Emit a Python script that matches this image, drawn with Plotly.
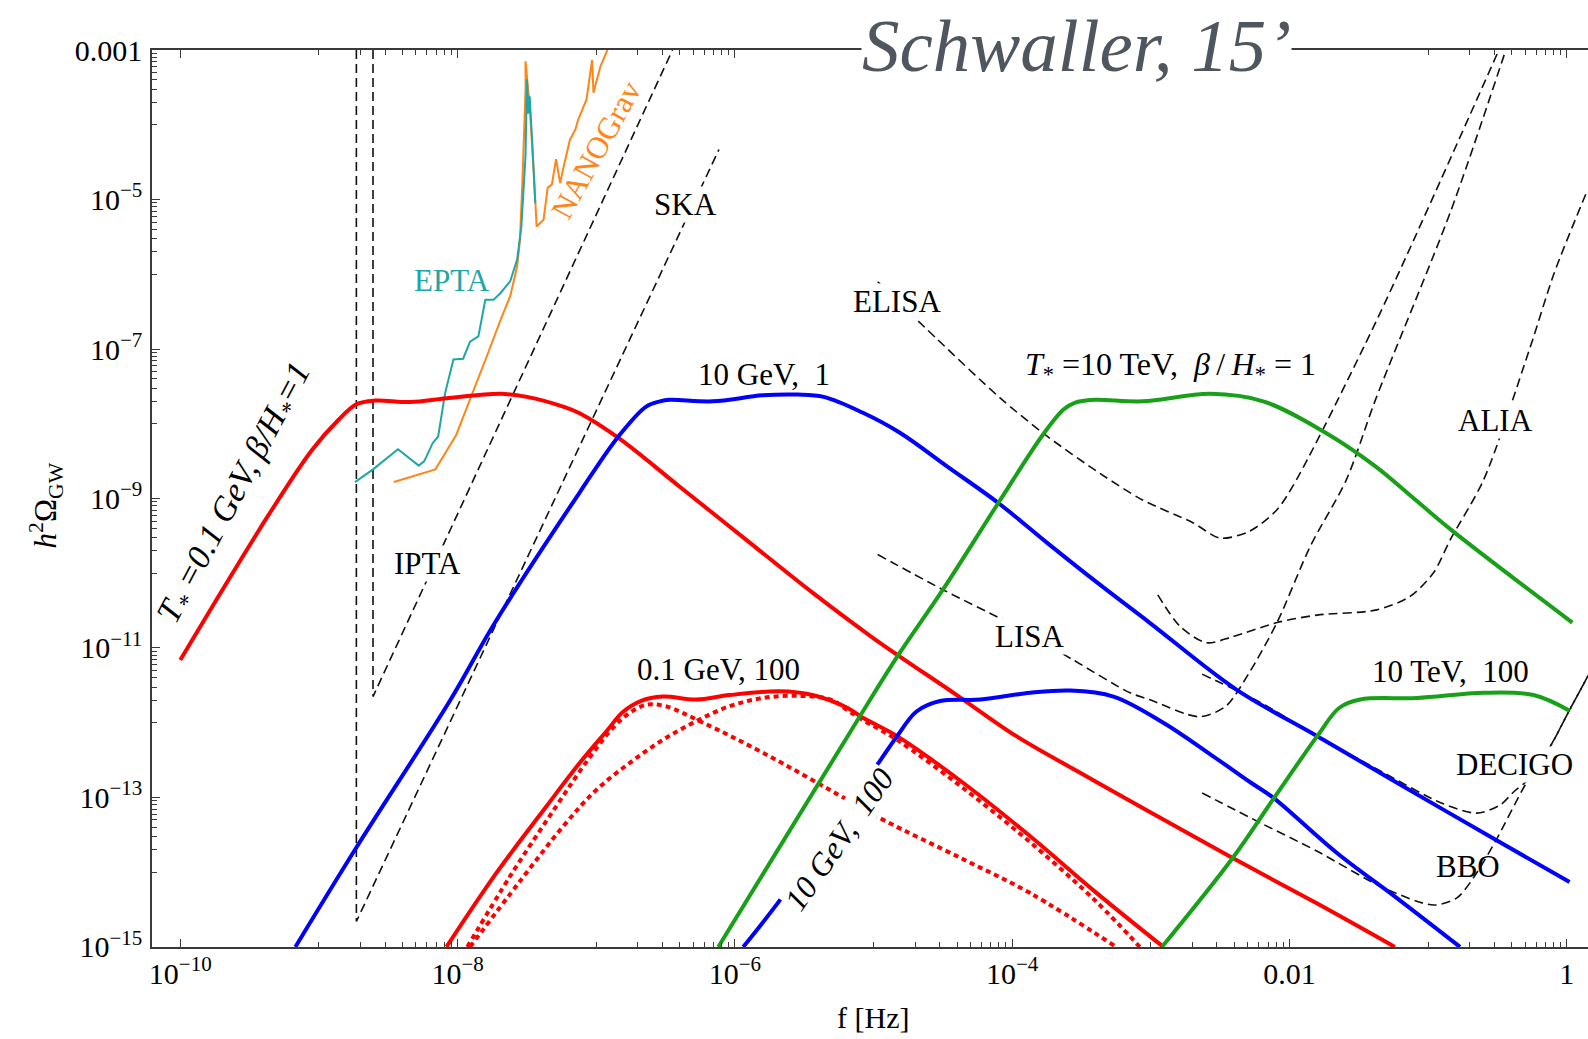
import numpy as np
import plotly.graph_objects as go

# ---------------------------------------------------------------
# Phase-transition GW spectra (log10 f [Hz], log10 h^2 Omega_GW)
# ---------------------------------------------------------------
# T* = 0.1 GeV, beta/H* = 1
red1_logf = [-10.00, -9.37, -9.05, -8.86, -8.73, -8.60, -8.34, -8.08, -7.69, -7.50, -7.24, -7.12,
             -6.84, -6.40, -5.92, -5.44, -5.00, -4.40, -3.97, -3.51, -3.03, -2.41, -1.80, -1.24]
red1_logo = [-11.16, -9.24, -8.35, -7.95, -7.74, -7.69, -7.71, -7.66, -7.60, -7.64, -7.77, -7.86,
             -8.19, -8.84, -9.55, -10.26, -10.87, -11.63, -12.18, -12.67, -13.17, -13.81, -14.42, -15.00]

# T* = 0.1 GeV, beta/H* = 100 (total and its two components)
red2_logf = [-8.08, -7.72, -7.36, -7.12, -6.92, -6.81, -6.68, -6.52, -6.28, -6.04, -5.68, -5.44,
             -5.19, -5.08, -4.83, -4.35, -3.87, -3.39, -2.91]
red2_logo = [-15.00, -14.01, -13.12, -12.54, -12.10, -11.86, -11.71, -11.65, -11.69, -11.63, -11.58, -11.63,
             -11.80, -11.93, -12.18, -12.81, -13.52, -14.28, -15.00]
red2a_logf = [-7.93, -7.62, -7.30, -7.05, -6.88, -6.76, -6.64, -6.50, -6.23, -5.80, -5.19, -4.93,
              -4.35, -3.87, -3.25]
red2a_logo = [-15.00, -14.05, -13.15, -12.47, -12.07, -11.87, -11.76, -11.78, -12.00, -12.40, -13.03, -13.30,
              -13.83, -14.28, -15.00]
red2b_logf = [-7.91, -7.55, -7.24, -7.00, -6.76, -6.52, -6.28, -6.04, -5.80, -5.55, -5.31, -5.19,
              -5.08, -4.83, -4.35, -3.87, -3.39, -3.08]
red2b_logo = [-15.00, -14.12, -13.39, -12.90, -12.54, -12.23, -11.98, -11.78, -11.67, -11.64, -11.69, -11.83,
              -11.96, -12.23, -12.88, -13.60, -14.40, -15.00]

# T* = 10 GeV, beta/H* = 1
blue1_logf = [-9.17, -8.73, -8.05, -7.73, -7.12, -6.84, -6.64, -6.54, -6.47, -6.16, -5.80, -5.55,
              -5.36, -5.08, -4.81, -4.47, -4.10, -3.75, -3.37, -3.01, -2.38, -1.80, -1.20, -0.51, 0.02]
blue1_logo = [-15.00, -13.67, -11.69, -10.66, -8.92, -8.17, -7.77, -7.70, -7.68, -7.70, -7.62, -7.61,
              -7.64, -7.85, -8.12, -8.57, -9.06, -9.59, -10.15, -10.66, -11.56, -12.18, -12.83, -13.57, -14.13]

# T* = 10 GeV, beta/H* = 100
blue2_logf = [-5.94, -5.69, -4.95, -4.83, -4.69, -4.52, -4.23, -3.87, -3.58, -3.27, -2.91, -2.55,
              -2.28, -2.12, -1.66, -1.23, -0.77]
blue2_logo = [-15.00, -14.41, -12.50, -12.18, -11.85, -11.71, -11.69, -11.60, -11.57, -11.65, -12.00, -12.45,
              -12.80, -13.00, -13.74, -14.34, -15.00]

# T* = 10 TeV, beta/H* = 1
green1_logf = [-6.12, -5.17, -4.82, -4.50, -4.10, -3.78, -3.63, -3.55, -3.41, -3.06, -2.57, -2.19,
               -1.74, -1.38, -1.09, -0.82, 0.04]
green1_logo = [-15.00, -12.13, -11.09, -10.22, -9.06, -8.15, -7.81, -7.72, -7.68, -7.70, -7.60, -7.70,
               -8.12, -8.57, -9.02, -9.44, -10.66]

# T* = 10 TeV, beta/H* = 100
green2_logf = [-2.92, -2.41, -2.12, -1.80, -1.64, -1.49, -1.08, -0.60, -0.24, 0.02]
green2_logo = [-15.00, -13.81, -13.03, -12.18, -11.80, -11.69, -11.67, -11.60, -11.63, -11.84]

# ---------------------------------------------------------------
# Pulsar timing limits
# ---------------------------------------------------------------
nanograv_logf = [-8.46, -8.16, -8.01, -7.89, -7.79, -7.69, -7.62, -7.57, -7.55, -7.53, -7.51, -7.51,
                 -7.48, -7.45, -7.43, -7.38, -7.35, -7.32, -7.29, -7.26, -7.24, -7.19, -7.15, -7.13,
                 -7.08, -7.07, -7.03, -7.02, -6.97, -6.92]
nanograv_logo = [-8.78, -8.61, -8.15, -7.59, -7.10, -6.61, -6.29, -5.89, -5.54, -4.64, -3.53, -3.15,
                 -3.75, -4.64, -5.36, -5.27, -4.84, -4.80, -4.46, -4.78, -4.60, -4.20, -4.06, -3.93,
                 -3.71, -3.66, -3.13, -3.57, -3.22, -3.00]

epta_logf = [-8.74, -8.61, -8.43, -8.28, -8.24, -8.18, -8.14, -8.09, -8.03, -7.96, -7.91, -7.85,
             -7.80, -7.74, -7.69, -7.62, -7.57, -7.54, -7.51, -7.50, -7.49, -7.48, -7.46, -7.44]
epta_logo = [-8.78, -8.61, -8.34, -8.56, -8.50, -8.26, -8.17, -7.59, -7.14, -7.13, -6.90, -6.83,
             -6.34, -6.34, -6.25, -6.09, -5.80, -5.36, -4.42, -3.39, -3.85, -3.62, -4.30, -5.05]

# ---------------------------------------------------------------
# Projected sensitivity curves
# ---------------------------------------------------------------
ipta_logf = [-8.61, -8.61, -6.45]
ipta_logo = [-3.00, -11.65, -3.00]
ska_logf = [-8.73, -8.73, -6.115]
ska_logo = [-3.00, -14.66, -4.33]

elisa_logf = [-4.97, -4.54, -4.09, -3.76, -3.37, -3.06, -2.70, -2.50, -2.29, -2.09, -1.95, -1.38, -0.49]
elisa_logo = [-6.10, -6.87, -7.65, -8.15, -8.66, -9.02, -9.32, -9.53, -9.44, -9.15, -8.75, -6.65, -3.00]

lisa_logf = [-4.97, -4.50, -4.04, -3.56, -3.15, -3.01, -2.65, -2.46, -2.29, -2.09, -1.85, -1.59,
             -1.38, -0.84, -0.44]
lisa_logo = [-9.75, -10.22, -10.65, -11.16, -11.60, -11.69, -11.92, -11.78, -11.33, -10.66, -9.64, -8.75,
             -7.68, -5.17, -3.00]

alia_logf = [-2.95, -2.79, -2.60, -2.41, -2.09, -1.80, -1.37, -1.13, -0.96, -0.84, -0.60, -0.27, -0.09, 0.15]
alia_logo = [-10.29, -10.71, -10.93, -10.85, -10.66, -10.56, -10.49, -10.31, -9.99, -9.55, -8.75, -7.01,
             -5.98, -4.87]

decigo_logf = [-2.63, -2.21, -1.80, -1.32, -0.91, -0.65, -0.48, -0.38, -0.29, -0.12, 0.02, 0.16]
decigo_logo = [-11.35, -11.73, -12.18, -12.67, -13.07, -13.21, -13.10, -12.92, -12.78, -12.32, -11.83, -11.35]

bbo_logf = [-2.63, -2.21, -1.80, -1.32, -0.96, -0.79, -0.65, -0.51, -0.29, -0.12, 0.02, 0.16]
bbo_logo = [-12.94, -13.34, -13.72, -14.21, -14.44, -14.34, -14.01, -13.57, -12.80, -12.32, -11.83, -11.35]

# axis ticks
x_major = [1e-10, 1e-8, 1e-6, 1e-4, 1e-2, 1.0]
x_major_text = ["10<sup>−10</sup>", "10<sup>−8</sup>", "10<sup>−6</sup>", "10<sup>−4</sup>", "0.01", "1"]
y_major = [1e-3, 1e-5, 1e-7, 1e-9, 1e-11, 1e-13, 1e-15]
y_major_text = ["0.001", "10<sup>−5</sup>", "10<sup>−7</sup>", "10<sup>−9</sup>",
                "10<sup>−11</sup>", "10<sup>−13</sup>", "10<sup>−15</sup>"]
x_minor = [k * 10.0 ** e for e in (-9, -7, -5, -3, -1) for k in range(1, 10)]
y_minor = [k * 10.0 ** e for e in (-14, -12, -10, -8, -6, -4) for k in range(1, 10)]

RED, BLUE, GREEN = "#ff0000", "#0000ff", "#19a019"
ORANGE, TEAL = "#ff8518", "#1fa6a6"
DASH = "9px,5px"
FONT = "Liberation Serif, Times New Roman, serif"


def curve(logf, logo, color, width, dash=None, shape="spline", smooth=1.0):
    return go.Scatter(
        x=np.power(10.0, np.array(logf)), y=np.power(10.0, np.array(logo)),
        mode="lines", hoverinfo="skip", showlegend=False,
        line=dict(color=color, width=width, dash=dash, shape=shape, smoothing=smooth),
    )


fig = go.Figure()

# sensitivity curves
for lf, lo, shp in [(ipta_logf, ipta_logo, "linear"), (ska_logf, ska_logo, "linear"),
                    (elisa_logf, elisa_logo, "spline"), (lisa_logf, lisa_logo, "spline"),
                    (alia_logf, alia_logo, "spline"), (decigo_logf, decigo_logo, "spline"),
                    (bbo_logf, bbo_logo, "spline")]:
    fig.add_trace(curve(lf, lo, "#111111", 1.6, DASH, shp, 0.8))

# pulsar timing limits
fig.add_trace(curve(nanograv_logf, nanograv_logo, ORANGE, 2, shape="linear"))
fig.add_trace(curve(epta_logf, epta_logo, TEAL, 2, shape="linear"))

# GW spectra
fig.add_trace(curve(red2a_logf, red2a_logo, RED, 4, "5px,4px"))
fig.add_trace(curve(red2b_logf, red2b_logo, RED, 4, "5px,4px"))
fig.add_trace(curve(red2_logf, red2_logo, RED, 4))
fig.add_trace(curve(red1_logf, red1_logo, RED, 4))
fig.add_trace(curve(blue1_logf, blue1_logo, BLUE, 4))
fig.add_trace(curve(blue2_logf, blue2_logo, BLUE, 4))
fig.add_trace(curve(green1_logf, green1_logo, GREEN, 4))
fig.add_trace(curve(green2_logf, green2_logo, GREEN, 4))

# curve labels: (text, log10 f, log10 Omega, angle, color, white box, size)
labels = [
    ("<i>T<sub>*</sub> =0.1 GeV, β/H<sub>*</sub>=1</i>", -9.60, -8.93, -62, "black", False, 34),
    ("IPTA", -8.22, -9.87, 0, "black", True, 31),
    ("EPTA", -8.04, -6.08, 0, TEAL, False, 31),
    ("NANOGrav", -7.00, -4.33, -61, ORANGE, False, 31),
    ("SKA", -6.355, -5.06, 0, "black", True, 31),
    ("ELISA", -4.83, -6.37, 0, "black", True, 31),
    ("10 GeV,  1", -5.79, -7.34, 0, "black", False, 31),
    ("<i>T</i><sub>*</sub> =10 TeV,  <i>β</i>\u2009/\u2009<i>H</i><sub>*</sub> = 1",
     -2.857, -7.235, 0, "black", False, 32),
    ("ALIA", -0.514, -7.96, 0, "black", True, 31),
    ("LISA", -3.87, -10.85, 0, "black", True, 31),
    ("0.1 GeV, 100", -6.115, -11.29, 0, "black", False, 31),
    ("<i>10 GeV,  100</i>", -5.25, -13.55, -55, "black", True, 32),
    ("10 TeV,  100", -0.836, -11.32, 0, "black", False, 31),
    ("DECIGO", -0.374, -12.56, 0, "black", True, 31),
    ("BBO", -0.71, -13.92, 0, "black", False, 31),
]
for text, lx, ly, ang, col, box, size in labels:
    fig.add_annotation(
        x=lx, y=ly, xref="x", yref="y", text=text, showarrow=False, textangle=ang,
        font=dict(family=FONT, size=size, color=col),
        bgcolor="white" if box else None, borderpad=0,
        xanchor="center", yanchor="middle",
    )

# axis titles
fig.add_annotation(x=0.502, y=-0.079, xref="paper", yref="paper", text="f [Hz]",
                   showarrow=False, font=dict(family=FONT, size=30, color="black"),
                   xanchor="center", yanchor="middle")
fig.add_annotation(x=-0.074, y=0.492, xref="paper", yref="paper",
                   text="<i>h</i><sup>2</sup>Ω<sub>GW</sub>", textangle=-90,
                   showarrow=False, font=dict(family=FONT, size=31, color="black"),
                   xanchor="center", yanchor="middle")

# header stamp over the top frame
fig.add_annotation(x=0.6435, y=1.005, xref="paper", yref="paper",
                   text="<i>Schwaller, 15’</i>", showarrow=False,
                   font=dict(family=FONT, size=75, color="#50565e"),
                   bgcolor="white", borderpad=0, xanchor="center", yanchor="middle")

axis_common = dict(
    type="log", showline=True, linecolor="#3a3a3a", linewidth=1.5,
    ticks="inside", ticklen=8, tickwidth=1.2, tickcolor="#3a3a3a",
    showgrid=False, zeroline=False, tickfont=dict(family=FONT, size=30, color="black"),
)
fig.update_xaxes(
    **axis_common, range=[-10.204, 0.153], mirror="ticks",
    tickmode="array", tickvals=x_major, ticktext=x_major_text, ticklabelstandoff=-1,
    minor=dict(tickmode="array", tickvals=x_minor, ticks="inside", ticklen=5,
               tickwidth=1, tickcolor="#3a3a3a", showgrid=False),
)
fig.update_yaxes(
    **axis_common, range=[-15.001, -2.999], mirror=False,
    tickmode="array", tickvals=y_major, ticktext=y_major_text, ticklabelstandoff=2,
    minor=dict(tickmode="array", tickvals=y_minor, ticks="inside", ticklen=5,
               tickwidth=1, tickcolor="#3a3a3a", showgrid=False),
)

fig.update_layout(
    width=1588, height=1039,
    margin=dict(l=152, r=0, t=50, b=92),
    paper_bgcolor="white", plot_bgcolor="white",
    showlegend=False,
    font=dict(family=FONT, size=30, color="black"),
)

fig.write_html("out.html")
